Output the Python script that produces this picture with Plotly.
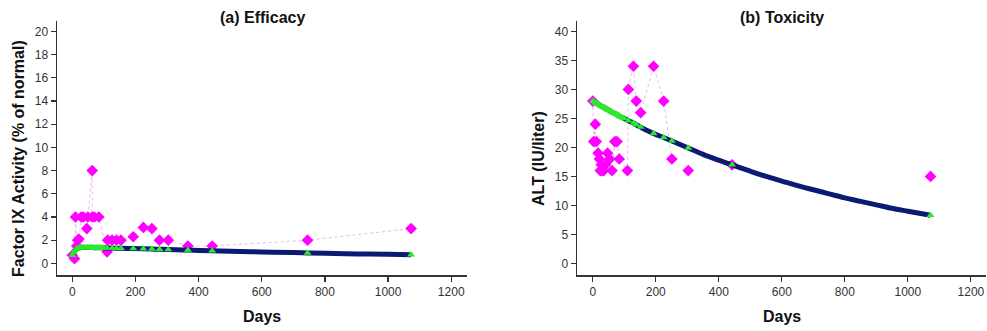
import plotly.graph_objects as go

# ---------------- data ----------------
# (a) Efficacy: observed Factor IX activity (% of normal)
eff_obs_days = [0, 7, 10, 14, 17, 21, 28, 35, 46, 49, 63, 63, 70, 84, 110, 112, 126, 140, 154, 193, 225, 252, 276, 304, 366, 443, 745, 1073]
eff_obs_vals = [0.7, 0.4, 4, 1.5, 2, 2.1, 4, 4, 3, 4, 8, 4, 4, 4, 1.0, 2, 2, 2, 2, 2.3, 3.1, 3, 2, 2, 1.5, 1.5, 2, 3]
eff_connected = 28   # all observations joined by the dotted line

# model curve
eff_mod_days = [0, 4, 8, 12, 16, 20, 24, 28, 32, 36, 40, 44, 48, 52, 56, 60, 64, 68, 72, 76, 80, 84, 88, 92, 96, 100,
                110, 126, 140, 154, 193, 225, 252, 276, 304, 366, 443, 500, 600, 700, 745, 800, 900, 1000, 1073]
eff_mod_vals = [0.70, 0.95, 1.12, 1.22, 1.28, 1.32, 1.35, 1.37, 1.38, 1.38, 1.38, 1.38, 1.38, 1.37, 1.37, 1.37, 1.37, 1.36, 1.36, 1.36, 1.36, 1.35, 1.35, 1.35, 1.35, 1.34,
                1.33, 1.32, 1.31, 1.30, 1.28, 1.26, 1.24, 1.22, 1.20, 1.15, 1.09, 1.05, 0.99, 0.93, 0.90, 0.87, 0.82, 0.78, 0.75]
eff_tri_days = [0, 4, 8, 12, 16, 20, 24, 28, 32, 36, 40, 44, 48, 52, 56, 60, 64, 68, 72, 76, 80, 84, 88, 92, 96, 100,
                110, 126, 140, 154, 193, 225, 252, 276, 304, 366, 443, 745, 1073]

# (b) Toxicity: observed ALT (IU/liter)
tox_obs_days = [0, 3, 8, 11, 17, 21, 24, 27, 30, 35, 40, 47, 54, 61, 70, 77, 84, 110, 113, 129, 138, 152, 193, 225, 251, 303, 442, 1072]
tox_obs_vals = [28, 21, 24, 21, 19, 18, 16, 17, 16, 16, 17, 19, 18, 16, 21, 21, 18, 16, 30, 34, 28, 26, 34, 28, 18, 16, 17, 15]
tox_connected = 25  # dotted line stops at day 251

tox_mod_days = [0, 4, 8, 12, 16, 20, 24, 28, 32, 36, 40, 44, 48, 52, 56, 60, 64, 68, 72, 76, 80, 84, 88, 92, 96, 100,
                113, 129, 138, 152, 193, 225, 251, 303, 350, 400, 442, 500, 550, 600, 650, 700, 750, 800, 850, 900, 950, 1000, 1072]
tox_mod_vals = [28.0, 27.9, 27.7, 27.6, 27.5, 27.4, 27.2, 27.1, 27.0, 26.9, 26.8, 26.6, 26.5, 26.4, 26.3, 26.1, 26.0, 25.9, 25.8, 25.7, 25.6, 25.4, 25.3, 25.2, 25.1, 25.0,
                24.6, 24.2, 23.9, 23.5, 22.4, 21.7, 21.1, 19.9, 18.8, 17.8, 17.0, 15.9, 15.0, 14.2, 13.4, 12.7, 12.0, 11.3, 10.7, 10.1, 9.5, 9.0, 8.3]
tox_tri_days = [0, 4, 8, 12, 16, 20, 24, 28, 32, 36, 40, 44, 48, 52, 56, 60, 64, 68, 72, 76, 80, 84, 88, 92, 96, 100,
                113, 129, 138, 152, 193, 225, 251, 303, 442, 1072]

x_ticks = [0, 200, 400, 600, 800, 1000, 1200]
eff_y_ticks = [0, 2, 4, 6, 8, 10, 12, 14, 16, 18, 20]
tox_y_ticks = [0, 5, 10, 15, 20, 25, 30, 35, 40]

titles = ["(a) Efficacy", "(b) Toxicity"]
y_titles = ["Factor IX Activity (% of normal)", "ALT (IU/liter)"]
x_title = "Days"

# ---------------- styles ----------------
PINK = "#ff00ff"
PINK_LINE = "#f0b4f0"
NAVY = "#0b1a72"
GREEN = "#2ee82e"
AX = "#333333"
FONT = "Liberation Sans, Arial, sans-serif"

fig = go.Figure()


def add_panel(obs_x, obs_y, n_conn, mod_x, mod_y, tri_days, xa, ya):
    fig.add_trace(go.Scatter(x=obs_x[:n_conn], y=obs_y[:n_conn], mode="lines",
                             line=dict(color=PINK_LINE, width=1, dash="dot"),
                             xaxis=xa, yaxis=ya, showlegend=False, hoverinfo="skip"))
    fig.add_trace(go.Scatter(x=obs_x, y=obs_y, mode="markers",
                             marker=dict(symbol="diamond", size=9, color=PINK),
                             xaxis=xa, yaxis=ya, showlegend=False, hoverinfo="skip"))
    fig.add_trace(go.Scatter(x=mod_x, y=mod_y, mode="lines",
                             line=dict(color=NAVY, width=5, shape="spline"),
                             xaxis=xa, yaxis=ya, showlegend=False, hoverinfo="skip"))
    lookup = dict(zip(mod_x, mod_y))
    fig.add_trace(go.Scatter(x=tri_days, y=[lookup[d] for d in tri_days], mode="markers",
                             marker=dict(symbol="triangle-up", size=7, color=GREEN),
                             xaxis=xa, yaxis=ya, showlegend=False, hoverinfo="skip"))


add_panel(eff_obs_days, eff_obs_vals, eff_connected, eff_mod_days, eff_mod_vals, eff_tri_days, "x", "y")
add_panel(tox_obs_days, tox_obs_vals, tox_connected, tox_mod_days, tox_mod_vals, tox_tri_days, "x2", "y2")

W, H = 987, 331


def px(x):
    return x / W


def py(y):
    return 1 - y / H


yd = [py(275), py(21)]

axis_common = dict(showline=True, linecolor=AX, linewidth=1.5, ticks="outside", ticklen=5,
                   tickcolor=AX, tickwidth=1.2, showgrid=False, zeroline=False,
                   tickfont=dict(family=FONT, size=12, color=AX), mirror=False)

fig.update_layout(
    width=W, height=H,
    margin=dict(l=0, r=0, t=0, b=0),
    paper_bgcolor="white", plot_bgcolor="white",
    font=dict(family=FONT, color="#222"),
    hovermode=False,
    xaxis=dict(domain=[px(57), px(467)], range=[-48.5, 1250], tickvals=x_ticks, anchor="y", **axis_common),
    yaxis=dict(domain=yd, range=[-1.0, 20.9], tickvals=eff_y_ticks, anchor="x", **axis_common),
    xaxis2=dict(domain=[px(577), px(986)], range=[-50, 1248], tickvals=x_ticks, anchor="y2", **axis_common),
    yaxis2=dict(domain=yd, range=[-2.0, 41.8], tickvals=tox_y_ticks, anchor="x2", **axis_common),
)

ann = []
for cx, t in [(262, titles[0]), (782, titles[1])]:
    ann.append(dict(text="<b>%s</b>" % t, x=px(cx), y=py(17), xref="paper", yref="paper",
                    showarrow=False, xanchor="center", yanchor="middle",
                    font=dict(family=FONT, size=16, color="#111")))
for cx in [262, 782]:
    ann.append(dict(text="<b>%s</b>" % x_title, x=px(cx), y=py(316), xref="paper", yref="paper",
                    showarrow=False, xanchor="center", yanchor="middle",
                    font=dict(family=FONT, size=16, color="#111")))
for cx, t in [(18, y_titles[0]), (538, y_titles[1])]:
    ann.append(dict(text="<b>%s</b>" % t, x=px(cx), y=py(159), xref="paper", yref="paper",
                    showarrow=False, xanchor="center", yanchor="middle", textangle=-90,
                    font=dict(family=FONT, size=16, color="#111")))
fig.update_layout(annotations=ann)

fig.write_html("out.html",
               config={"displayModeBar": False, "staticPlot": True},
               post_script="document.body.style.margin='0';document.body.style.overflow='hidden';")
